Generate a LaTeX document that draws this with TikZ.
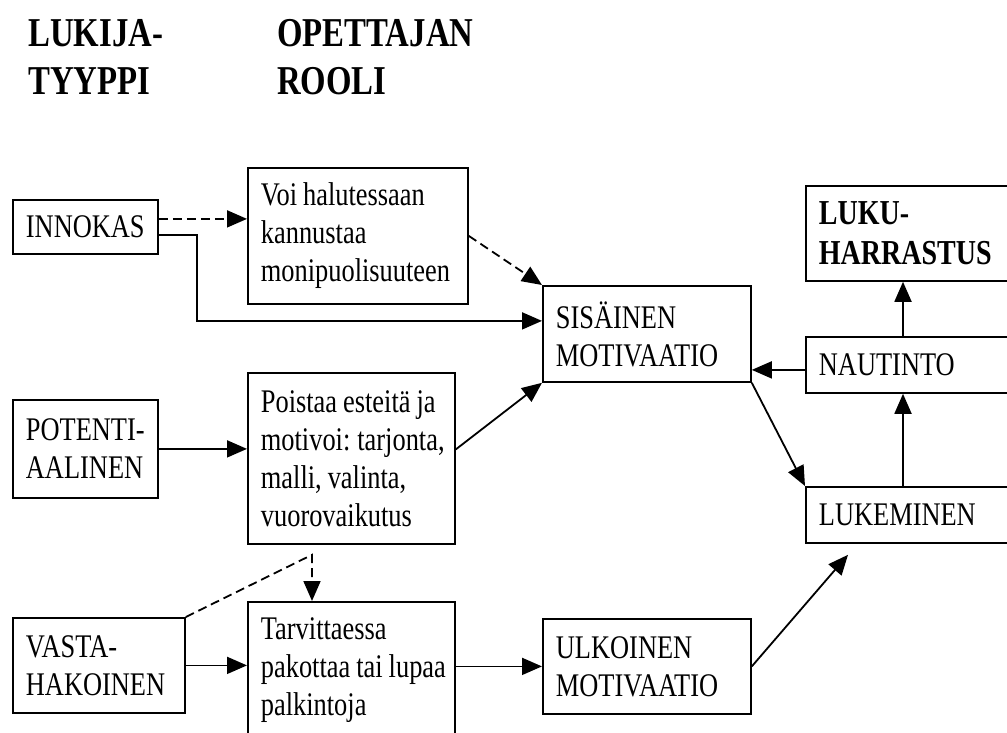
\documentclass[tikz,border=0pt]{standalone}
\usepackage{fontspec}
\setmainfont{Liberation Serif}[FakeStretch=0.8]
\usetikzlibrary{arrows.meta}

\begin{document}
\begin{tikzpicture}[
  x=1pt, y=-1pt,
  box/.style={draw, line width=1.8pt, anchor=north west, inner xsep=13pt, inner ysep=0pt,
    align=left, font=\fontsize{33}{38}\selectfont,
    execute at begin node={\spaceskip=6pt\relax\xspaceskip=7pt\relax}},
  head/.style={anchor=north west, inner sep=0pt, align=left, font=\fontsize{41}{48}\selectfont\bfseries},
  link/.style={->, line width=1.8pt},
  dlink/.style={link, dash pattern=on 9pt off 5pt},
  >={Triangle[length=20pt,width=17pt]}
]
\useasboundingbox (0,0) rectangle (1007,733);
\clip (0,0) rectangle (1007,733);

% Headings
\node[head] (hlukija) at (28,19) {LUKIJA-\\TYYPPI};
\node[head] (hrooli) at (277,19) {OPETTAJAN\\ROOLI};

% Reader types
\node[box, text width=119pt, minimum height=54pt] (innokas) at (12,199) {INNOKAS};
\node[box, text width=119pt, minimum height=98pt] (potenti) at (12,399) {POTENTI-\\AALINEN};
\node[box, text width=146pt, minimum height=95pt] (vasta) at (12,617) {VASTA-\\HAKOINEN};

% Teacher's role
\node[box, text width=194pt, minimum height=136pt] (voi) at (247,167)
  {\mbox{Voi halutessaan}\\kannustaa\\monipuolisuuteen};
\node[box, text width=181pt, minimum height=171pt] (poistaa) at (247,372)
  {\mbox{Poistaa esteitä ja}\\\mbox{motivoi: tarjonta,}\\\mbox{malli, valinta,}\\vuorovaikutus};
\node[box, text width=181pt, minimum height=136pt] (tarv) at (247,601)
  {Tarvittaessa\\\mbox{pakottaa tai lupaa}\\palkintoja};

% Motivation
\node[box, text width=182pt, minimum height=96pt] (sisainen) at (542,285) {SISÄINEN\\MOTIVAATIO};
\node[box, text width=182pt, minimum height=95pt] (ulkoinen) at (542,618) {ULKOINEN\\MOTIVAATIO};

% Reading
\node[box, text width=189pt, minimum height=95pt, font=\fontsize{35}{40}\selectfont\bfseries] (luku) at (805,185) {LUKU-\\HARRASTUS};
\node[box, text width=189pt, minimum height=56pt] (nautinto) at (805,336) {NAUTINTO};
\node[box, text width=189pt, minimum height=56pt] (lukeminen) at (805,486) {LUKEMINEN};

% Connections
\draw[dlink] ([yshift=8pt]innokas.east) -- ([yshift=8pt]innokas.east -| voi.west);
\draw[link] ([yshift=-8pt]innokas.east) -- ++(38,0) |- ([yshift=13pt]sisainen.west);
\draw[dlink] (voi.east) -- (sisainen.north west);
\draw[link] (potenti.east) -- (potenti.east -| poistaa.west);
\draw[link] ([yshift=9pt]poistaa.east) -- (sisainen.south west);
\draw[link] (vasta.east) -- (vasta.east -| tarv.west);
\draw[dlink] (vasta.north east) -- ([shift={(65,10)}]poistaa.south west) -- ([xshift=65pt]tarv.north west);
\draw[link] (ulkoinen.west -| tarv.east) -- (ulkoinen.west);
\draw[link] (ulkoinen.east) -- ([shift={(43,11)}]lukeminen.south west);
\draw[link] (sisainen.south east) -- (lukeminen.north west);
\draw[link] ([yshift=-5pt]nautinto.west) -- ([yshift=-5pt]nautinto.west -| sisainen.east);
\draw[link] ([xshift=98pt]lukeminen.north west) -- ([xshift=98pt]lukeminen.north west |- nautinto.south);
\draw[link] ([xshift=98pt]nautinto.north west) -- ([xshift=98pt]nautinto.north west |- luku.south);

\end{tikzpicture}
\end{document}
